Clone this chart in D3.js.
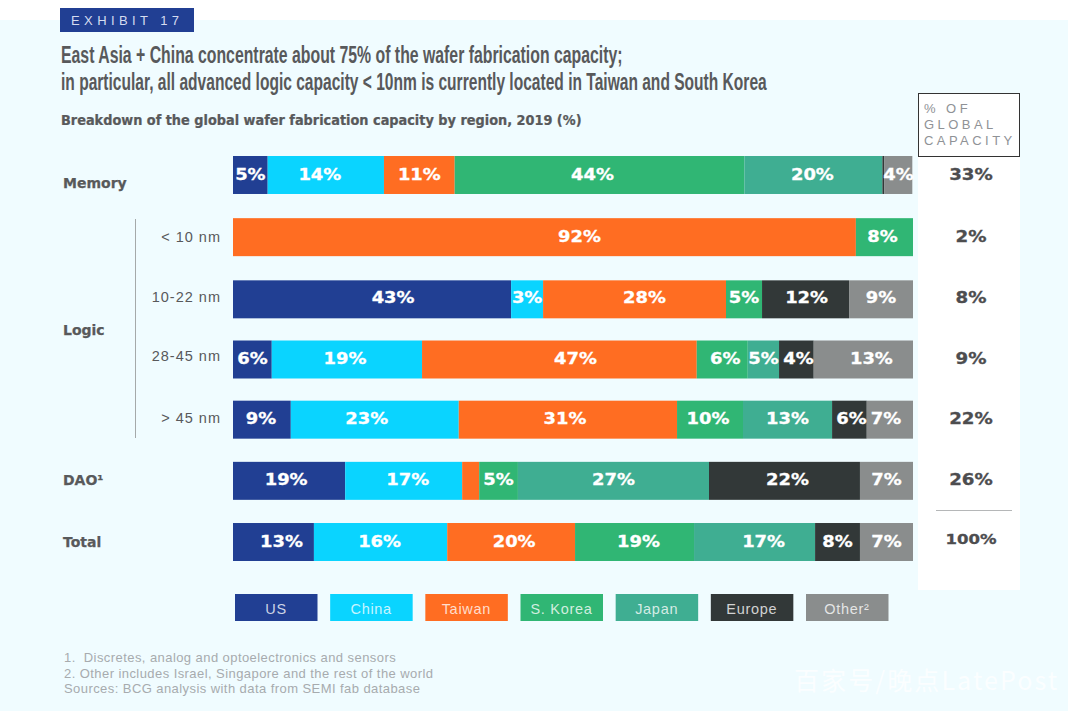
<!DOCTYPE html>
<html>
<head>
<meta charset="utf-8">
<script src="https://cdn.jsdelivr.net/npm/d3@7"></script>
<style>
  html, body { margin: 0; padding: 0; background: #fff; }
  svg { display: block; }
  text { font-family: "Liberation Sans", sans-serif; white-space: pre; }
  .wide { font-family: "DejaVu Sans", sans-serif; font-weight: 700; }
</style>
</head>
<body>
<div id="chart"></div>
<script>
const regions = ['US', 'China', 'Taiwan', 'S. Korea', 'Japan', 'Europe', 'Other²'];
const colors = ['#213f93', '#0ad4ff', '#ff6d22', '#30b674', '#3fae92', '#323838', '#8a8d8d'];
const rows = ['Memory', '< 10 nm', '10-22 nm', '28-45 nm', '> 45 nm', 'DAO¹', 'Total'];

// segment widths as drawn in the picture, they do not always agree with the printed labels
const memoryShares = [5.1, 17.1, 10.4, 42.6, 20.3, 0.3, 4.1];
const under10Shares = [0, 0, 91.6, 8.4, 0, 0, 0];
const logic1022Shares = [40.9, 4.7, 26.9, 5.3, 0, 12.8, 9.4];
const logic2845Shares = [5.7, 22.1, 40.4, 7.5, 4.6, 5.1, 14.6];
const over45Shares = [8.5, 24.7, 32.1, 9.7, 13.1, 5.1, 6.8];
const daoShares = [16.5, 17.2, 2.5, 5.7, 28.1, 22.2, 7.8];
const totalShares = [11.9, 19.6, 18.8, 17.5, 17.8, 6.6, 7.8];
const shares = [memoryShares, under10Shares, logic1022Shares, logic2845Shares, over45Shares, daoShares, totalShares];

const memoryLabels = ['5%', '14%', '11%', '44%', '20%', '', '4%'];
const under10Labels = ['', '', '92%', '8%', '', '', ''];
const logic1022Labels = ['43%', '3%', '28%', '5%', '', '12%', '9%'];
const logic2845Labels = ['6%', '19%', '47%', '6%', '5%', '4%', '13%'];
const over45Labels = ['9%', '23%', '31%', '10%', '13%', '6%', '7%'];
const daoLabels = ['19%', '17%', '', '5%', '27%', '22%', '7%'];
const totalLabels = ['13%', '16%', '20%', '19%', '17%', '8%', '7%'];
const labels = [memoryLabels, under10Labels, logic1022Labels, logic2845Labels, over45Labels, daoLabels, totalLabels];

const globalCapacity = ['33%', '2%', '8%', '9%', '22%', '26%', '100%'];
const footnotes = [
  '1.  Discretes, analog and optoelectronics and sensors',
  '2. Other includes Israel, Singapore and the rest of the world',
  'Sources: BCG analysis with data from SEMI fab database'
];

const width = 1068, height = 711;
const grey = '#58595b';

const svg = d3.select('#chart').append('svg')
  .attr('width', width)
  .attr('height', height);

// squeezes or stretches a text so it ends up len px wide
function fitWidth(sel, len) {
  sel.each(function (d) {
    const w = typeof len === 'function' ? len(d) : len;
    const ratio = w / this.getComputedTextLength();
    const el = d3.select(this);
    const px = +el.attr('x'), py = +el.attr('y');
    el.attr('x', null).attr('y', null)
      .attr('transform', `translate(${px},${py}) scale(${ratio},1)`);
  });
}

svg.append('rect').attr('y', 20).attr('width', width).attr('height', height - 20).attr('fill', '#f0fcff');
svg.append('rect').attr('x', 918).attr('y', 93).attr('width', 102).attr('height', 497).attr('fill', '#fff');

// header
svg.append('rect').attr('x', 60).attr('y', 8).attr('width', 134).attr('height', 24).attr('fill', '#213f93');
svg.append('text').attr('x', 71).attr('y', 25).attr('font-size', 13).attr('letter-spacing', 4.4)
  .attr('fill', '#d5dcf0').text('EXHIBIT 17');

const titles = [
  { text: 'East Asia + China concentrate about 75% of the wafer fabrication capacity;', y: 63, len: 562 },
  { text: 'in particular, all advanced logic capacity < 10nm is currently located in Taiwan and South Korea', y: 90, len: 706 }
];
svg.selectAll('.title').data(titles).enter().append('text')
  .attr('class', 'title')
  .attr('x', 61)
  .attr('y', d => d.y)
  .attr('font-size', 24)
  .attr('font-weight', 700)
  .attr('fill', grey)
  .text(d => d.text)
  .call(fitWidth, d => d.len);

svg.append('text').attr('class', 'wide').attr('x', 61).attr('y', 125).attr('font-size', 13.5)
  .attr('fill', grey).attr('stroke', grey).attr('stroke-width', 0.25)
  .text('Breakdown of the global wafer fabrication capacity by region, 2019 (%)')
  .call(fitWidth, 521);

// scales
const x = d3.scaleLinear().domain([0, 100]).range([233, 913]);
const y = d3.scaleBand().domain(rows).range([156, 561]).paddingInner(0.379);

// the rows in the picture are not quite evenly spaced, shift in px
const rowShift = [0, 1, 2, 1, 0, 0, 0];
const labelShift = [0, 0, 0, 0, -1, -1, -1];

// printed labels are not centred in their segment, shift in px per row
const labelNudge = [
  [0, -6, 0, -7, -1, 0, 0],
  [0, 0, 35, -2, 0, 0, 0],
  [21, 0, 10, 0, 0, 1, 0],
  [0, -2, 16, 3, 0, 2, 8],
  [-1, -8, -3, -2, 0, 2, -4],
  [-3, 4, 0, 0, 0, 3, 0],
  [8, -1, 3, 4, 9, 0, 0]
];

rows.forEach((row, r) => {
  const g = svg.append('g').attr('class', 'row');
  let sum = 0;
  const segs = shares[r].map((v, i) => {
    const seg = { start: sum, value: v, label: labels[r][i], color: colors[i], nudge: labelNudge[r][i] };
    sum += v;
    return seg;
  });

  g.selectAll('rect').data(segs.filter(d => d.value > 0)).enter().append('rect')
    .attr('x', d => x(d.start))
    .attr('y', y(row) + rowShift[r])
    .attr('width', d => x(d.start + d.value) - x(d.start))
    .attr('height', y.bandwidth())
    .attr('fill', d => d.color);

  const labelY = y(row) + y.bandwidth() / 2 + 5.5 + labelShift[r];

  g.selectAll('text').data(segs.filter(d => d.label)).enter().append('text')
    .attr('class', 'wide')
    .attr('transform', d => `translate(${x(d.start + d.value / 2) + d.nudge},${labelY}) scale(1.12,1)`)
    .attr('text-anchor', 'middle')
    .attr('font-size', 16)
    .attr('fill', '#fff')
    .attr('stroke', '#fff')
    .attr('stroke-width', 0.3)
    .text(d => d.label);

  svg.append('text')
    .attr('class', 'wide')
    .attr('transform', `translate(971,${labelY + (row === 'Total' ? -2.5 : 0)}) scale(1.14,1)`)
    .attr('text-anchor', 'middle')
    .attr('font-size', row === 'Total' ? 14.5 : 16)
    .attr('fill', '#4d4d4f')
    .attr('stroke', '#4d4d4f')
    .attr('stroke-width', 0.3)
    .text(globalCapacity[r]);
});

// row labels
const mainLabels = [
  { text: 'Memory', y: 188 },
  { text: 'Logic', y: 335 },
  { text: 'DAO¹', y: 485 },
  { text: 'Total', y: 547 }
];
svg.selectAll('.main').data(mainLabels).enter().append('text')
  .attr('class', 'wide main')
  .attr('x', 63)
  .attr('y', d => d.y)
  .attr('font-size', 14)
  .attr('fill', grey)
  .attr('stroke', grey)
  .attr('stroke-width', 0.25)
  .text(d => d.text);

const subShift = [1, 0, -3, -2];
svg.selectAll('.sub').data(rows.slice(1, 5)).enter().append('text')
  .attr('class', 'sub')
  .attr('x', 221)
  .attr('y', (d, i) => y(d) + y.bandwidth() / 2 + 5 + subShift[i])
  .attr('text-anchor', 'end')
  .attr('font-size', 14.5)
  .attr('letter-spacing', 1)
  .attr('fill', grey)
  .text(d => d);

svg.append('line').attr('x1', 135.5).attr('x2', 135.5).attr('y1', 219).attr('y2', 438)
  .attr('stroke', '#a5a9aa').attr('stroke-width', 1);

// capacity column header
svg.append('rect').attr('x', 918.5).attr('y', 93.5).attr('width', 101).attr('height', 63)
  .attr('fill', '#fff').attr('stroke', '#333').attr('stroke-width', 1);
svg.selectAll('.cap').data(['% OF', 'GLOBAL', 'CAPACITY']).enter().append('text')
  .attr('class', 'cap')
  .attr('x', 924)
  .attr('y', (d, i) => 113 + i * 16.2)
  .attr('font-size', 13)
  .attr('letter-spacing', 3.45)
  .attr('fill', '#8f9296')
  .text(d => d);

svg.append('line').attr('x1', 936).attr('x2', 1012).attr('y1', 510.5).attr('y2', 510.5)
  .attr('stroke', '#b5b7b8').attr('stroke-width', 1);

// legend
const legendX = d3.scalePoint().domain(regions).range([235, 806]);
const legend = svg.selectAll('.legend').data(regions).enter().append('g')
  .attr('class', 'legend')
  .attr('transform', d => `translate(${legendX(d)},594)`);
legend.append('rect').attr('width', 82.5).attr('height', 27).attr('fill', (d, i) => colors[i]);
legend.append('text')
  .attr('x', 41)
  .attr('y', 19.5)
  .attr('text-anchor', 'middle')
  .attr('font-size', 14.5)
  .attr('letter-spacing', 0.7)
  .attr('fill', '#fff')
  .attr('fill-opacity', 0.78)
  .text(d => d);

// footnotes
svg.selectAll('.note').data(footnotes).enter().append('text')
  .attr('class', 'note')
  .attr('x', 64)
  .attr('y', (d, i) => 662 + i * 15.7)
  .attr('font-size', 13)
  .attr('letter-spacing', 0.43)
  .attr('fill', '#a7abae')
  .text(d => d);

// watermark
svg.append('text').attr('x', 794).attr('y', 690).attr('font-size', 25)
  .attr('letter-spacing', 2.1)
  .style('font-family', '"Noto Sans CJK SC", sans-serif')
  .attr('fill', '#fff').attr('fill-opacity', 0.75)
  .text('百家号/晚点LatePost');
</script>
</body>
</html>
